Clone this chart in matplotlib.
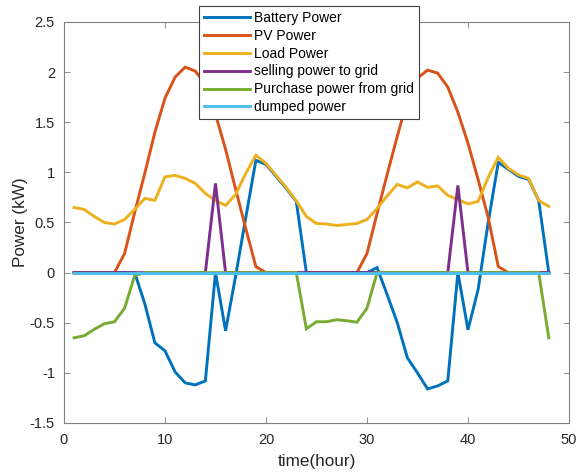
import matplotlib
matplotlib.use("Agg")
import matplotlib.pyplot as plt
import numpy as np

hours = list(range(1, 49))

battery = [0, 0, 0, 0, 0, 0, 0, -0.31, -0.70, -0.78, -0.99, -1.10, -1.12, -1.08,
           0, -0.58, -0.03, 0.55, 1.12, 1.08, 0.96, 0.84, 0.71, 0,
           0, 0, 0, 0, 0, 0, 0.05, -0.22, -0.50, -0.85, -1.00, -1.16, -1.13, -1.08,
           0, -0.57, -0.17, 0.50, 1.10, 1.03, 0.96, 0.93, 0.72, 0]

pv = [0, 0, 0, 0, 0, 0.19, 0.60, 0.99, 1.40, 1.74, 1.95, 2.05, 2.01, 1.88,
      1.58, 1.23, 0.83, 0.44, 0.06, 0, 0, 0, 0, 0,
      0, 0, 0, 0, 0, 0.19, 0.59, 0.98, 1.36, 1.72, 1.94, 2.02, 1.99, 1.85,
      1.60, 1.29, 0.93, 0.55, 0.06, 0, 0, 0, 0, 0]

load = [0.65, 0.63, 0.56, 0.50, 0.485, 0.53, 0.63, 0.74, 0.72, 0.955, 0.97, 0.94, 0.89, 0.79,
        0.72, 0.67, 0.78, 0.99, 1.17, 1.09, 0.97, 0.85, 0.715, 0.56,
        0.49, 0.485, 0.47, 0.48, 0.49, 0.53, 0.64, 0.765, 0.88, 0.845, 0.905, 0.85, 0.865, 0.77,
        0.73, 0.685, 0.71, 0.95, 1.15, 1.04, 0.975, 0.94, 0.72, 0.66]

selling = [0] * 14 + [0.89] + [0] * 23 + [0.87] + [0] * 9

purchase = [-0.65, -0.63, -0.565, -0.51, -0.49, -0.355, -0.03] + [0] * 16 + \
           [-0.56, -0.49, -0.49, -0.47, -0.48, -0.495, -0.355] + [0] * 17 + [-0.65]

dumped = [0] * 48

labels = ["Battery Power", "PV Power", "Load Power", "selling power to grid",
          "Purchase power from grid", "dumped power"]
colors = ["#0072BD", "#D95319", "#EDB120", "#7E2F8E", "#77AC30", "#4DBEEE"]

plt.rcParams['font.family'] = ['Liberation Sans', 'DejaVu Sans']

fig = plt.figure(figsize=(5.79, 4.74), dpi=100)
ax = fig.add_axes([0.1105, 0.1076, 0.8722, 0.846])

for y, lab, c in zip([battery, pv, load, selling, purchase, dumped], labels, colors):
    ax.plot(hours, y, color=c, lw=2.1, label=lab, solid_joinstyle='miter')

ax.set_xlim(0, 50)
ax.set_ylim(-1.5, 2.5)
ax.set_xticks([0, 10, 20, 30, 40, 50])
ax.set_yticks([-1.5, -1, -0.5, 0, 0.5, 1, 1.5, 2, 2.5])
ax.set_yticklabels(["-1.5", "-1", "-0.5", "0", "0.5", "1", "1.5", "2", "2.5"])
ax.tick_params(direction='in', top=True, right=True, length=4, width=0.6,
               colors='#808080', labelcolor='#262626', labelsize=10.5)
ax.tick_params(axis='x', pad=7.5)
ax.tick_params(axis='y', pad=6.5)
for s in ax.spines.values():
    s.set_color('#808080')
    s.set_linewidth(0.8)

ax.set_xlabel("time(hour)", fontsize=12.3, color='#262626', labelpad=5)
ax.set_ylabel("Power (kW)", fontsize=12.3, color='#262626', labelpad=1)

leg = ax.legend(loc='upper left', bbox_to_anchor=(0.267, 1.04), fontsize=10,
                handlelength=3.3, handletextpad=0.35, labelspacing=0.28,
                borderpad=0.35, fancybox=False, framealpha=1, edgecolor='#404040',
                borderaxespad=0)
leg.get_frame().set_linewidth(0.8)

fig.savefig("out.png", dpi=100)
